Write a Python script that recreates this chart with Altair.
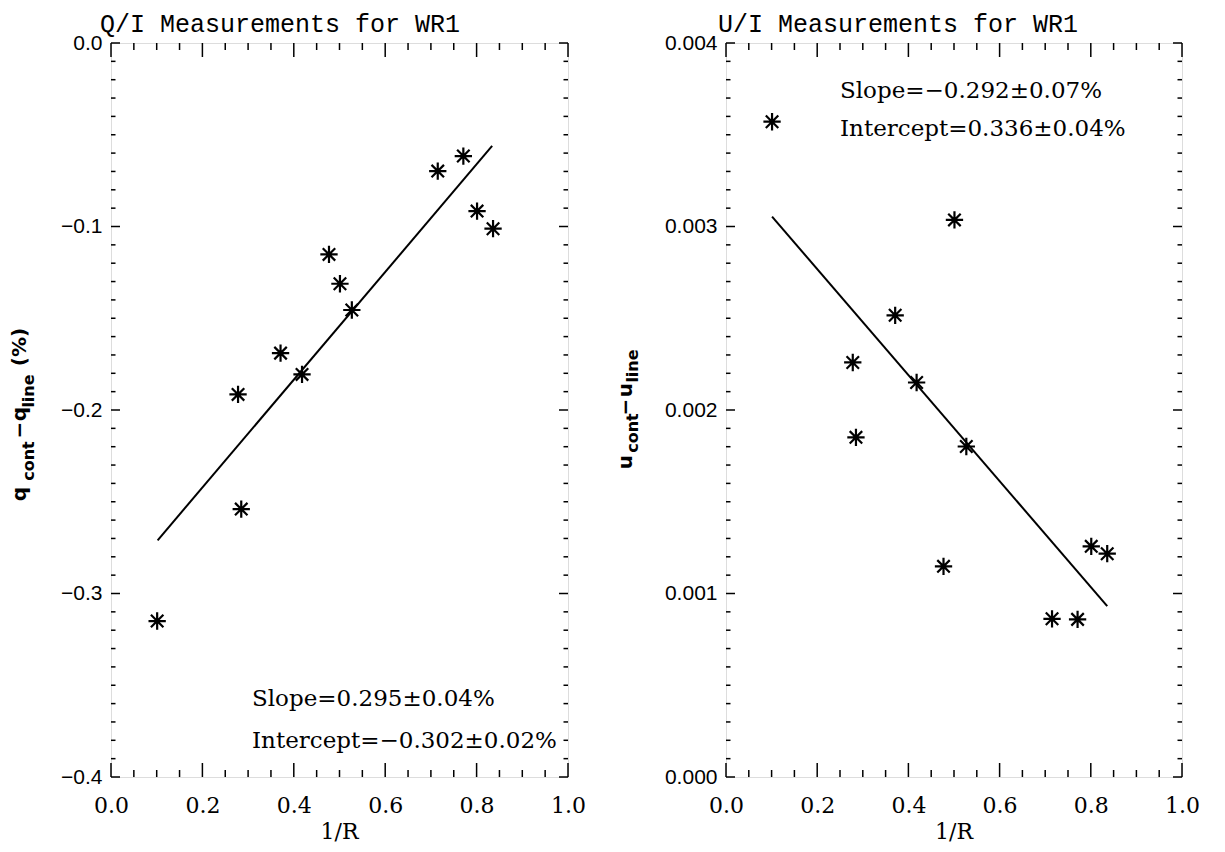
import altair as alt
import pandas as pd

# ---------------- data ----------------
inv_r = [0.101, 0.278, 0.285, 0.371, 0.418, 0.477, 0.501, 0.527, 0.715, 0.771, 0.801, 0.836]
q_diff = [-0.315, -0.1915, -0.254, -0.169, -0.1806, -0.1152, -0.1312, -0.1455, -0.0698, -0.0616, -0.0916, -0.1012]
u_diff = [0.003571, 0.002259, 0.001851, 0.002516, 0.002150, 0.001148, 0.003036, 0.001801, 0.000862, 0.000859, 0.001257, 0.001217]

q_fit_x = [0.102, 0.834]
q_fit_y = [-0.2710, -0.0561]
u_fit_x = [0.101, 0.836]
u_fit_y = [0.003054, 0.000931]

x_major = [0.0, 0.2, 0.4, 0.6, 0.8, 1.0]
x_minor = [0.05, 0.1, 0.15, 0.25, 0.3, 0.35, 0.45, 0.5, 0.55, 0.65, 0.7, 0.75, 0.85, 0.9, 0.95]
q_major = [-0.4, -0.3, -0.2, -0.1, 0.0]
q_minor = [round(-0.4 + 0.01 * i, 2) for i in range(41) if i % 10 != 0]
u_major = [0.0, 0.001, 0.002, 0.003, 0.004]
u_minor = [round(0.0001 * i, 4) for i in range(41) if i % 10 != 0]

q_title = "Q/I Measurements for WR1"
u_title = "U/I Measurements for WR1"
q_notes = ["Slope=0.295\u00b10.04%", "Intercept=\u22120.302\u00b10.02%"]
u_notes = ["Slope=\u22120.292\u00b10.07%", "Intercept=0.336\u00b10.04%"]
x_label = "1/R"

# y-axis title pieces: (text, is_subscript, centre offset along axis)
q_ytitle = [("q", False, 451), ("cont", True, 418), ("\u2212", False, 387),
            ("q", False, 371), ("line", True, 348), ("(%)", False, 304)]
u_ytitle = [("u", False, 419), ("cont", True, 390), ("\u2212", False, 364),
            ("u", False, 347), ("line", True, 323)]

ASTER = "M0,-1L0,1M-1,0L1,0M-0.72,-0.72L0.72,0.72M-0.72,0.72L0.72,-0.72"
SERIF = "DejaVu Serif"
SANS = "Liberation Sans"


def panel(W, H, yvals, fit_x, fit_y, ydom, ymajor, yminor, yfmt, title,
          title_x, notes, notes_x, notes_y, ypieces, ymain_x, ysub_x):
    xs = alt.Scale(domain=[0, 1], nice=False, zero=False)
    ys = alt.Scale(domain=ydom, nice=False, zero=False)
    df = pd.DataFrame({"x": inv_r, "y": yvals})
    xaxis = alt.Axis(values=x_major, format=".1f", ticks=False, tickSize=0, domain=False,
                     grid=False, title=None, labelFont=SERIF, labelFontSize=22,
                     labelColor="black", labelPadding=18, labelFlush=False,
                     labelOverlap=False)
    yaxis = alt.Axis(values=ymajor, format=yfmt, ticks=False, tickSize=0, domain=False,
                     grid=False, title=None, labelFont=SANS, labelFontSize=21,
                     labelColor="black", labelPadding=9, labelFlush=False,
                     labelOverlap=False)
    X = lambda f: alt.X(f, scale=xs, axis=xaxis)
    Y = lambda f: alt.Y(f, scale=ys, axis=yaxis)
    pts = alt.Chart(df).mark_point(shape=ASTER, size=300, filled=False, stroke="black",
                                   strokeWidth=2.2, opacity=1).encode(x=X("x:Q"), y=Y("y:Q"))
    fit = alt.Chart(pd.DataFrame({"x": fit_x, "y": fit_y})).mark_line(
        color="black", strokeWidth=2).encode(x=X("x:Q"), y=Y("y:Q"))

    layers = [pts, fit]
    # inward ticks on all four sides
    for vals, ln in ((x_major, 14), (x_minor, 7)):
        d = pd.DataFrame({"v": vals})
        for y0, y1 in ((H, H - ln), (0, ln)):
            layers.append(alt.Chart(d).mark_rule(color="black", strokeWidth=1.5).encode(
                x=X("v:Q"), y=alt.value(y0), y2=alt.value(y1)))
    for vals, ln in ((ymajor, 9), (yminor, 4.5)):
        d = pd.DataFrame({"v": vals})
        for x0, x1 in ((0, ln), (W - ln, W)):
            layers.append(alt.Chart(d).mark_rule(color="black", strokeWidth=1.5).encode(
                y=Y("v:Q"), x=alt.value(x0), x2=alt.value(x1)))

    one = pd.DataFrame({"a": [0]})
    layers.append(alt.Chart(one).mark_text(font="Liberation Mono", fontSize=25, align="center",
                                           baseline="alphabetic", color="black").encode(
        text=alt.value(title), x=alt.value(title_x), y=alt.value(-11)))
    layers.append(alt.Chart(one).mark_text(font=SERIF, fontSize=22, align="center",
                                           baseline="alphabetic", color="black").encode(
        text=alt.value(x_label), x=alt.value(W / 2), y=alt.value(H + 62)))
    for i, t in enumerate(notes):
        layers.append(alt.Chart(one).mark_text(font=SERIF, fontSize=23, align="left",
                                               baseline="alphabetic", color="black").encode(
            text=alt.value(t), x=alt.value(notes_x), y=alt.value(notes_y[i])))
    for t, sub, pos in ypieces:
        layers.append(alt.Chart(one).mark_text(font="DejaVu Sans", fontWeight="bold",
                                               fontSize=16 if sub else 20, angle=270,
                                               align="center", baseline="alphabetic",
                                               color="black").encode(
            text=alt.value(t), x=alt.value(ysub_x if sub else ymain_x), y=alt.value(pos)))
    return alt.layer(*layers).properties(width=W, height=H)


left = panel(457, 734, q_diff, q_fit_x, q_fit_y, [-0.4, 0.0], q_major, q_minor, ".1f",
             q_title, 169, q_notes, 141, [663, 705], q_ytitle, -85, -77)
right = panel(456, 734, u_diff, u_fit_x, u_fit_y, [0.0, 0.004], u_major, u_minor, ".3f",
              u_title, 172, u_notes, 114, [55, 93], u_ytitle, -94, -88)

chart = alt.hconcat(left, right, spacing=158, bounds="flush").properties(
    padding={"left": 1, "top": 3, "right": 5, "bottom": 5}
).configure_view(stroke="black", strokeWidth=2).configure(background="white")

chart.save("out.html", embed_options={"renderer": "svg", "actions": False})
